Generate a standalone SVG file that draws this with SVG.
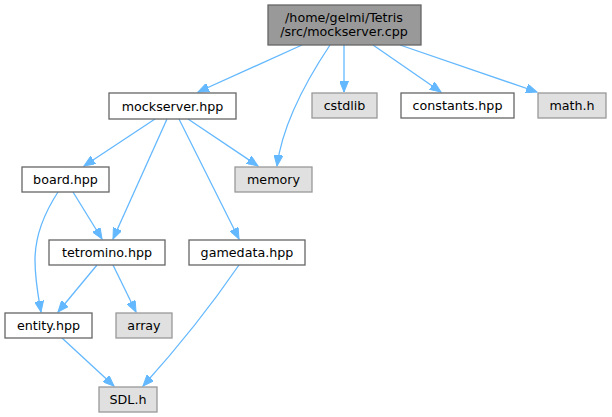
<svg xmlns="http://www.w3.org/2000/svg" width="612" height="417" viewBox="0 0 612 417">
<style>
text{font-family:"DejaVu Sans",sans-serif;font-size:12.7px;fill:#000;text-anchor:middle}
.w rect{fill:#fff;stroke:#666;stroke-width:1.3}
.g rect{fill:#e0e0e0;stroke:#999;stroke-width:1.3}
.r rect{fill:#999;stroke:#666;stroke-width:1.3}
#edges path{fill:none;stroke:#63b8ff;stroke-width:1.3;marker-end:url(#ah)}
</style>
<defs>
<marker id="ah" markerUnits="userSpaceOnUse" markerWidth="12" markerHeight="9" refX="11" refY="4.5" orient="auto">
<path d="M0,0 L11,4.5 L0,9 z" fill="#63b8ff" stroke="#63b8ff" stroke-width="1"/>
</marker>
</defs>
<rect width="612" height="417" fill="#fff"/>
<g id="edges">
<path d="M302,45 L198,92"/>
<path d="M330,45 C312,72 283,120 277,166"/>
<path d="M344,45 L344,92"/>
<path d="M373,45 L441,92"/>
<path d="M400,45 L537,92"/>
<path d="M155,119 L84,166"/>
<path d="M167,119 L113,239"/>
<path d="M188,119 L258,166"/>
<path d="M179,119 L239,239"/>
<path d="M73,192 L102,239"/>
<path d="M58,192 C45,212 35,235 35,260 C35,280 38,295 41,312"/>
<path d="M97,265 L58,312"/>
<path d="M113,265 L136,312"/>
<path d="M62,338 L114,386"/>
<path d="M239,265 C215,300 180,345 143,386"/>
</g>
<g id="root" class="r"><rect x="268" y="5" width="153" height="40"/><text x="344" y="21.5">/home/gelmi/Tetris</text><text x="344" y="36">/src/mockserver.cpp</text></g>
<g id="mockserver" class="w"><rect x="109" y="93" width="127" height="26"/><text x="172.5" y="110.5">mockserver.hpp</text></g>
<g id="cstdlib" class="g"><rect x="312" y="93" width="65" height="25"/><text x="344.5" y="110">cstdlib</text></g>
<g id="constants" class="w"><rect x="401" y="93" width="113" height="25"/><text x="457.5" y="110">constants.hpp</text></g>
<g id="math" class="g"><rect x="538" y="93" width="68" height="25"/><text x="572" y="110">math.h</text></g>
<g id="board" class="w"><rect x="22" y="167" width="87" height="25"/><text x="65.5" y="184">board.hpp</text></g>
<g id="memory" class="g"><rect x="235" y="167" width="77" height="25"/><text x="273.5" y="184">memory</text></g>
<g id="tetromino" class="w"><rect x="49" y="240" width="116" height="25"/><text x="107" y="257">tetromino.hpp</text></g>
<g id="gamedata" class="w"><rect x="189" y="240" width="116" height="25"/><text x="247" y="257">gamedata.hpp</text></g>
<g id="entity" class="w"><rect x="5" y="313" width="87" height="25"/><text x="48.5" y="330">entity.hpp</text></g>
<g id="array" class="g"><rect x="116" y="313" width="56" height="25"/><text x="144" y="330">array</text></g>
<g id="sdl" class="g"><rect x="99" y="387" width="58" height="25"/><text x="128" y="404">SDL.h</text></g>
</svg>
